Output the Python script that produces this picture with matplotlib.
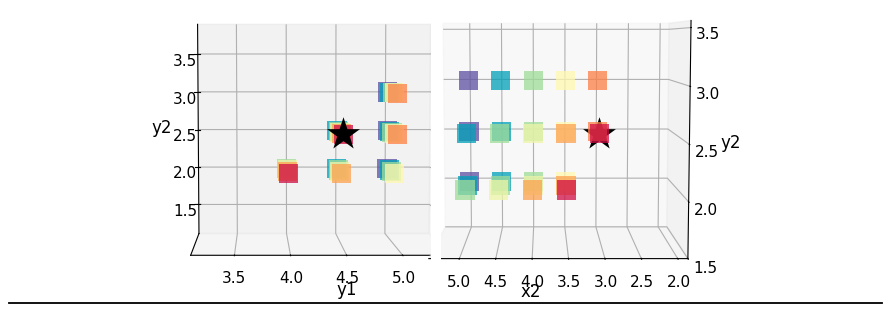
import matplotlib
matplotlib.use("Agg")
import matplotlib.pyplot as plt
import numpy as np
from matplotlib.patches import Rectangle
from matplotlib.lines import Line2D

W, H = 891, 310

purple = "#5e4fa2"
teal = "#00a0b8"
green = "#9fdc98"
yellow = "#fff8b0"
pale = "#eef5a8"
lorange = "#fda150"
orange = "#fd7f45"
red = "#cf0f45"

y1 = [5, 5, 5, 5, 5,
      5, 5, 5, 5, 5,
      4.5, 4.5, 4.5, 4.5, 4.5,
      5, 5, 5, 5,
      4.5, 4.5, 4.5, 4.5,
      4, 4, 4, 4]
x2 = [5, 4.5, 4, 3.5, 3,
      5, 4.5, 4, 3.5, 3,
      5, 4.5, 4, 3.5, 3,
      5, 4.5, 4, 3.5,
      5, 4.5, 4, 3.5,
      5, 4.5, 4, 3.5]
y2 = [3, 3, 3, 3, 3,
      2.5, 2.5, 2.5, 2.5, 2.5,
      2.5, 2.5, 2.5, 2.5, 2.5,
      2, 2, 2, 2,
      2, 2, 2, 2,
      2, 2, 2, 2]
colors = [purple, teal, green, yellow, orange,
          purple, teal, green, yellow, orange,
          teal, green, pale, lorange, red,
          purple, teal, green, yellow,
          teal, green, pale, lorange,
          green, pale, lorange, red]
best = ([4.5], [3], [2.5])
ticks = [1.5, 2.0, 2.5, 3.0, 3.5]


def box(l, t, r, b):
    return [l / W, 1 - b / H, (r - l) / W, (b - t) / H]


def panel(fig, pos, azim, elev, aspect, xlim, ylim, zlim, star_z, zoom=1.0, focal=0.4):
    ax = fig.add_axes(box(*pos), projection="3d", computed_zorder=False)
    ax.patch.set_alpha(0)
    ax.set_box_aspect(aspect, zoom=zoom)
    ax.set_proj_type("persp", focal_length=focal)
    ax.view_init(elev=elev, azim=azim)
    ax.scatter(best[0], best[1], best[2], marker="*", c="k", s=620,
               depthshade=False, zorder=star_z, linewidths=0)
    ax.scatter(y1, x2, y2, marker="s", c=colors, s=190, alpha=0.75,
               depthshade=False, zorder=2, linewidths=0)
    ax.set_xlim(*xlim)
    ax.set_ylim(*ylim)
    ax.set_zlim(*zlim)
    ax.set_zticks(ticks)
    ax.tick_params(labelsize=11, pad=2)
    return ax


def shear(ax, S):
    # moves the vanishing point sideways without turning the horizontals
    base = ax.get_proj
    ax.get_proj = lambda: base() @ S


fig = plt.figure(figsize=(W / 100, H / 100), dpi=100)

# left panel, looking along x2
ax1 = panel(fig, (83, -86, 533, 364), -90.01, 3.2, (230, 120, 208),
            (3.11, 5.45), (1.9, 5.4), (1.11, 3.89), 5, zoom=0.77)
ax1.set_xticks([3.5, 4.0, 4.5, 5.0])
ax1.set_yticks([])
ax1.set_zorder(1)
plt.setp(ax1.get_zticklabels(), va="top")
S1 = np.eye(4)
S1[0, 1] = -0.02
S1[0, 3] = 0.02 * 5.4
shear(ax1, S1)

# hides what sticks out of the left panel
fig.add_artist(Rectangle((431 / W, 0), 300 / W, 1, transform=fig.transFigure,
                         fc="w", ec="none", zorder=1.5))

# right panel, looking along y1
ax2 = panel(fig, (325, -86, 775, 364), 179.99, 5.5, (140, 219, 200),
            (2.8, 5.4), (1.86, 5.42), (1.5, 3.56), 1, zoom=0.78)
ax2.set_yticks([2.0, 2.5, 3.0, 3.5, 4.0, 4.5, 5.0])
ax2.set_xticks([])
ax2.xaxis.line.set_visible(False)
ax2.set_zorder(2)
S2 = np.eye(4)
S2[1, 0] = 0.012
S2[1, 3] = -0.012 * 5.4
shear(ax2, S2)

fig.add_artist(Rectangle((431 / W, 0), 10 / W, 1, transform=fig.transFigure,
                         fc="w", ec="none", zorder=3))

for txt, px, py in [("y1", 347, 290), ("x2", 531, 292), ("y2", 162, 128), ("y2", 731, 143)]:
    fig.text(px / W, 1 - py / H, txt, fontsize=12, ha="center", va="center", zorder=4)

fig.add_artist(Line2D([9 / W, 882 / W], [1 - 303 / H] * 2, color="k", lw=1.3, zorder=4))

fig.savefig("out.png", dpi=100)
